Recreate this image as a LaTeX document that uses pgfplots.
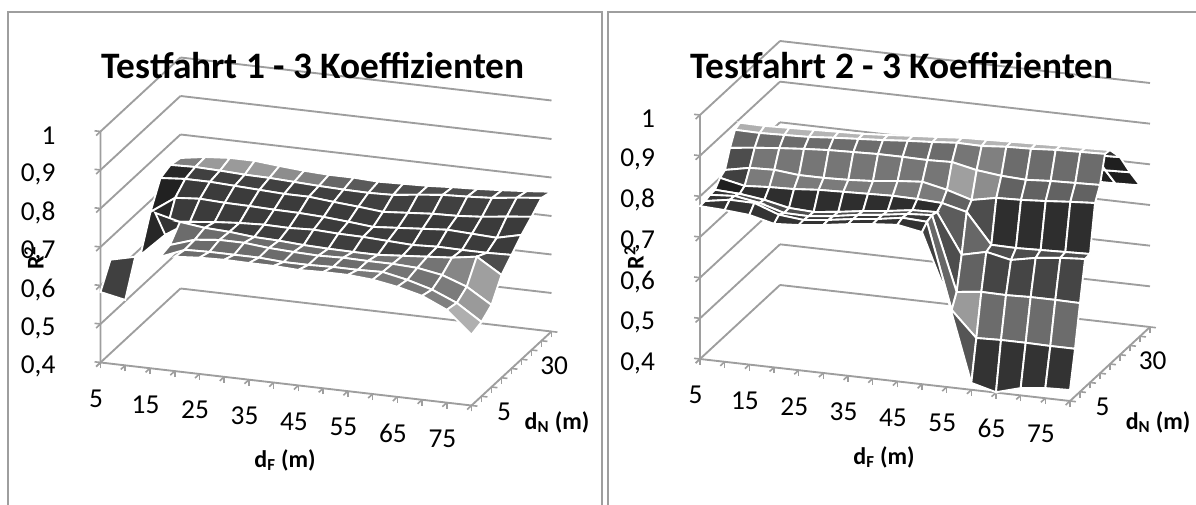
\documentclass[border=0pt]{standalone}
\usepackage{fontspec}
\setmainfont{Carlito}
\usepackage{pgfplots}
\pgfplotsset{compat=1.18}
\definecolor{wall}{gray}{0.62}
\pgfplotsset{
  common/.style={
    xmin=5,xmax=80,ymin=5,ymax=45,zmin=0.4,zmax=1,
    anchor=origin,clip=false,
    /pgf/number format/assume math mode=true,
    /pgf/number format/use comma,
    /pgf/number format/fixed,
    /pgf/number format/precision=1,
    tick label style={font=\fontsize{20.5}{20.5}\selectfont},
    axis line style={draw=none},
    tick style={wall,line width=1.2pt},
    tick align=outside,
    major tick length=4.5pt,
  },
  panel/.style={
    common,
    axis x line*=bottom,axis y line=none,axis z line*=left,
    xtick={5,10,...,80},
    xticklabels={5,,15,,25,,35,,45,,55,,65,,75,},
    ytick=\empty,
    ztick={0.4,0.5,0.6,0.7,0.8,0.9,1},
    xticklabel style={anchor=center,xshift=0pt,yshift=-24pt},
    zticklabel style={anchor=east,xshift=-27pt},
    zmajorgrids=true,
    major grid style={wall,line width=1.4pt},
    colormap={greys}{gray(0cm)=(0); gray(1cm)=(1)},
    point meta min=0,point meta max=1,
  },
  % second axis: its x runs backwards, so that its dN axis stands on the right floor edge
  dnaxis/.style={
    common,
    axis x line=none,axis z line=none,axis y line*=left,
    xtick=\empty,ztick=\empty,
    ytick={5,10,...,45},
    yticklabels={5,,,,,30,,,},
    yticklabel style={anchor=center,xshift=20pt,yshift=-4pt},
  },
  skin/.style={
    surf,shader=flat corner,draw=white,line width=1.4pt,
    z buffer=none,mesh/cols=16,point meta=explicit,
    unbounded coords=jump,
  },
  edge/.style={wall,line width=1.4pt,no marks},
}
\begin{document}
\begin{tikzpicture}
\path[use as bounding box] (0,0) rectangle (897pt,378.75pt);
\begin{scope}[x=0.75pt,y=-0.75pt,shift={(0pt,378.75pt)}]
  \draw[wall,line width=1.1pt] (8,505)--(8,12)--(602,12)--(602,505);
  \draw[wall,line width=1.1pt] (608,505)--(608,12)--(1196,12);
\end{scope}

% Testfahrt 1
\begin{axis}[panel,at={(75.375pt,106.875pt)},
  x={(3.71pt,-0.43pt)},y={(1.5pt,1.3875pt)},z={(0pt,288.75pt)}]
\addplot3[edge] coordinates {(5,5,1) (5,5,0.4) (80,5,0.4) (80,45,0.4)};
\addplot3[skin,mesh/rows=9] coordinates {
(5,45,.739)[.5] (10,45,.749)[.6] (15,45,.754)[.6] (20,45,.754)[.6] (25,45,.748)[.55] (30,45,.743)[.5] (35,45,.740)[.4] (40,45,.740)[.35] (45,45,.737)[.3] (50,45,.739)[.3] (55,45,.741)[.3] (60,45,.745)[.3] (65,45,.748)[.3] (70,45,.752)[.3] (75,45,.757)[.3] (80,45,.763)[.3]
(5,40,.745)[.15] (10,40,.747)[.25] (15,40,.745)[.25] (20,40,.742)[.25] (25,40,.741)[.25] (30,40,.738)[.25] (35,40,.735)[.25] (40,40,.733)[.25] (45,40,.732)[.25] (50,40,.734)[.25] (55,40,.742)[.25] (60,40,.749)[.25] (65,40,.752)[.25] (70,40,.756)[.25] (75,40,.764)[.25] (80,40,.771)[.25]
(5,35,.735)[.13] (10,35,.740)[.23] (15,35,.740)[.23] (20,35,.737)[.23] (25,35,.734)[.23] (30,35,.731)[.23] (35,35,.731)[.23] (40,35,.725)[.23] (45,35,.720)[.23] (50,35,.714)[.23] (55,35,.719)[.23] (60,35,.724)[.23] (65,35,.726)[.23] (70,35,.731)[.23] (75,35,.739)[.23] (80,35,.746)[.23]
(5,30,.671)[.15] (10,30,.715)[.23] (15,30,.720)[.23] (20,30,.717)[.23] (25,30,.716)[.23] (30,30,.714)[.23] (35,30,.713)[.23] (40,30,.710)[.23] (45,30,.705)[.23] (50,30,.699)[.23] (55,30,.704)[.23] (60,30,.709)[.23] (65,30,.714)[.23] (70,30,.711)[.23] (75,30,.708)[.23] (80,30,.723)[.23]
(5,25,.583)[.2] (10,25,.643)[.2] (15,25,.684)[.24] (20,25,.691)[.24] (25,25,.696)[.24] (30,25,.699)[.24] (35,25,.698)[.24] (40,25,.701)[.24] (45,25,.698)[.24] (50,25,.697)[.24] (55,25,.694)[.24] (60,25,.691)[.24] (65,25,.694)[.24] (70,25,.693)[.24] (75,25,.693)[.3] (80,25,.695)[.3]
(5,20,nan)[.4] (10,20,.724)[.3] (15,20,.708)[.42] (20,20,.700)[.42] (25,20,.697)[.42] (30,20,.691)[.42] (35,20,.689)[.42] (40,20,.685)[.42] (45,20,.683)[.42] (50,20,.682)[.42] (55,20,.682)[.45] (60,20,.687)[.45] (65,20,.692)[.45] (70,20,.697)[.52] (75,20,.707)[.62] (80,20,.667)[.62]
(5,15,nan)[.4] (10,15,nan)[.4] (15,15,.672)[.42] (20,15,.693)[.42] (25,15,.700)[.42] (30,15,.700)[.42] (35,15,.694)[.42] (40,15,.691)[.42] (45,15,.689)[.42] (50,15,.691)[.42] (55,15,.690)[.45] (60,15,.690)[.45] (65,15,.687)[.45] (70,15,.676)[.48] (75,15,.653)[.6] (80,15,.613)[.6]
(5,10,.643)[.25] (10,10,.658)[.3] (15,10,.665)[.42] (20,10,.691)[.42] (25,10,.693)[.42] (30,10,.693)[.42] (35,10,.693)[.42] (40,10,.689)[.42] (45,10,.689)[.42] (50,10,.691)[.42] (55,10,.691)[.47] (60,10,.693)[.47] (65,10,.680)[.47] (70,10,.662)[.5] (75,10,.635)[.68] (80,10,.593)[.68]
(5,5,.583)[.3] (10,5,.570)[.3] (15,5,nan)[.4] (20,5,.697)[.4] (25,5,.702)[.4] (30,5,.704)[.4] (35,5,.703)[.4] (40,5,.703)[.4] (45,5,.700)[.4] (50,5,.702)[.4] (55,5,.702)[.4] (60,5,.697)[.4] (65,5,.686)[.4] (70,5,.670)[.4] (75,5,.641)[.4] (80,5,.584)[.4]
};
\end{axis}
\begin{axis}[dnaxis,at={(353.625pt,74.625pt)},
  x={(-3.71pt,0.43pt)},y={(1.5pt,1.3875pt)},z={(0pt,288.75pt)}]
\end{axis}

% Testfahrt 2
\begin{axis}[panel,at={(525pt,109.5pt)},
  x={(3.7pt,-0.42pt)},y={(1.5pt,1.3875pt)},z={(0pt,305pt)}]
\addplot3[edge] coordinates {(5,5,1) (5,5,0.4) (80,5,0.4) (80,45,0.4)};
\addplot3[skin,mesh/rows=12] coordinates {
(5,40,.735)[.12] (10,40,.734)[.12] (15,40,.736)[.12] (20,40,.738)[.12] (25,40,.740)[.12] (30,40,.742)[.12] (35,40,.746)[.12] (40,40,.751)[.12] (45,40,.755)[.12] (50,40,.760)[.12] (55,40,.762)[.12] (60,40,.764)[.12] (65,40,.766)[.12] (70,40,.768)[.12] (75,40,.769)[.12] (80,40,.771)[.12]
(5,35,.790)[.2] (10,35,.789)[.2] (15,35,.791)[.2] (20,35,.793)[.2] (25,35,.795)[.2] (30,35,.797)[.2] (35,35,.801)[.2] (40,35,.806)[.2] (45,35,.810)[.2] (50,35,.815)[.2] (55,35,.817)[.2] (60,35,.819)[.2] (65,35,.821)[.2] (70,35,.823)[.15] (75,35,.824)[.12] (80,35,.826)[.12]
(5,30,.850)[.25] (10,30,.849)[.25] (15,30,.851)[.25] (20,30,.853)[.25] (25,30,.855)[.25] (30,30,.857)[.25] (35,30,.861)[.25] (40,30,.866)[.25] (45,30,.870)[.25] (50,30,.875)[.25] (55,30,.877)[.25] (60,30,.879)[.25] (65,30,.881)[.25] (70,30,.883)[.2] (75,30,.884)[.2] (80,30,.886)[.2]
(5,25,.890)[.68] (10,25,.889)[.7] (15,25,.891)[.7] (20,25,.893)[.7] (25,25,.895)[.7] (30,25,.897)[.7] (35,25,.901)[.7] (40,25,.906)[.7] (45,25,.910)[.7] (50,25,.915)[.7] (55,25,.917)[.7] (60,25,.919)[.7] (65,25,.921)[.7] (70,25,.923)[.7] (75,25,.924)[.7] (80,25,.926)[.7]
(5,22.5,.884)[.4] (10,22.5,.883)[.42] (15,22.5,.885)[.42] (20,22.5,.887)[.42] (25,22.5,.892)[.42] (30,22.5,.896)[.42] (35,22.5,.900)[.42] (40,22.5,.905)[.42] (45,22.5,.909)[.42] (50,22.5,.914)[.46] (55,22.5,.913)[.5] (60,22.5,.918)[.42] (65,22.5,.920)[.42] (70,22.5,.924)[.42] (75,22.5,.926)[.42] (80,22.5,.928)[.42]
(5,20,.851)[.3] (10,20,.858)[.46] (15,20,.864)[.46] (20,20,.869)[.46] (25,20,.873)[.46] (30,20,.875)[.46] (35,20,.877)[.46] (40,20,.877)[.46] (45,20,.876)[.46] (50,20,.878)[.62] (55,20,.865)[.55] (60,20,.858)[.38] (65,20,.855)[.38] (70,20,.859)[.38] (75,20,.861)[.38] (80,20,.863)[.38]
(5,17.5,.808)[.25] (10,17.5,.820)[.48] (15,17.5,.822)[.48] (20,17.5,.816)[.48] (25,17.5,.816)[.48] (30,17.5,.818)[.48] (35,17.5,.822)[.48] (40,17.5,.829)[.48] (45,17.5,.834)[.48] (50,17.5,.821)[.38] (55,17.5,.803)[.3] (60,17.5,.815)[.18] (65,17.5,.817)[.18] (70,17.5,.821)[.18] (75,17.5,.826)[.18] (80,17.5,.830)[.18]
(5,15,.800)[.12] (10,15,.787)[.18] (15,15,.791)[.18] (20,15,.793)[.18] (25,15,.798)[.18] (30,15,.800)[.18] (35,15,.802)[.18] (40,15,.804)[.18] (45,15,.803)[.18] (50,15,.800)[.36] (55,15,.785)[.4] (60,15,.711)[.3] (65,15,.710)[.3] (70,15,.712)[.3] (75,15,.714)[.3] (80,15,.716)[.3]
(5,12.5,.782)[.2] (10,12.5,.779)[.3] (15,12.5,.771)[.3] (20,12.5,.758)[.3] (25,12.5,.755)[.3] (30,12.5,.762)[.3] (35,12.5,.771)[.3] (40,12.5,.778)[.3] (45,12.5,.787)[.3] (50,12.5,.789)[.3] (55,12.5,.691)[.38] (60,12.5,.705)[.27] (65,12.5,.692)[.27] (70,12.5,.704)[.27] (75,12.5,.711)[.27] (80,12.5,.715)[.27]
(5,10,.781)[.2] (10,10,.785)[.22] (15,10,.775)[.22] (20,10,.757)[.22] (25,10,.756)[.22] (30,10,.763)[.22] (35,10,.773)[.22] (40,10,.780)[.22] (45,10,.789)[.22] (50,10,.793)[.4] (55,10,.611)[.6] (60,10,.618)[.42] (65,10,.617)[.42] (70,10,.619)[.42] (75,10,.619)[.42] (80,10,.618)[.42]
(5,7.5,.777)[.2] (10,7.5,.787)[.2] (15,7.5,.786)[.2] (20,7.5,.764)[.2] (25,7.5,.758)[.2] (30,7.5,.765)[.2] (35,7.5,.774)[.2] (40,7.5,.781)[.2] (45,7.5,.791)[.2] (50,7.5,.788)[.25] (55,7.5,.578)[.33] (60,7.5,.516)[.2] (65,7.5,.518)[.2] (70,7.5,.518)[.2] (75,7.5,.517)[.2] (80,7.5,.517)[.2]
(5,5,.776)[.2] (10,5,.773)[.2] (15,5,.768)[.2] (20,5,.753)[.2] (25,5,.757)[.2] (30,5,.764)[.2] (35,5,.773)[.2] (40,5,.780)[.2] (45,5,.785)[.2] (50,5,.774)[.2] (55,5,.626)[.2] (60,5,.417)[.2] (65,5,.401)[.2] (70,5,.418)[.2] (75,5,.425)[.2] (80,5,.427)[.2]
};
\end{axis}
\begin{axis}[dnaxis,at={(802.5pt,78pt)},
  x={(-3.7pt,0.42pt)},y={(1.5pt,1.3875pt)},z={(0pt,305pt)}]
\end{axis}

\begin{scope}[x=0.75pt,y=-0.75pt,shift={(0pt,378.75pt)}]
  \node[font=\fontsize{28}{28}\selectfont\bfseries] at (313,66) {Testfahrt 1 - 3 Koeffizienten};
  \node[font=\fontsize{28}{28}\selectfont\bfseries] at (902,66) {Testfahrt 2 - 3 Koeffizienten};
  \node[font=\fontsize{18}{18}\selectfont\bfseries,rotate=90] at (34,258) {R\textsuperscript{2}};
  \node[font=\fontsize{18}{18}\selectfont\bfseries,rotate=90] at (634,258) {R\textsuperscript{2}};
  \node[font=\fontsize{18}{18}\selectfont\bfseries] at (285,460) {d\textsubscript{F} (m)};
  \node[font=\fontsize{18}{18}\selectfont\bfseries] at (884,457) {d\textsubscript{F} (m)};
  \node[font=\fontsize{18}{18}\selectfont\bfseries] at (557,422) {d\textsubscript{N} (m)};
  \node[font=\fontsize{18}{18}\selectfont\bfseries] at (1158,422) {d\textsubscript{N} (m)};
\end{scope}
\end{tikzpicture}
\end{document}
